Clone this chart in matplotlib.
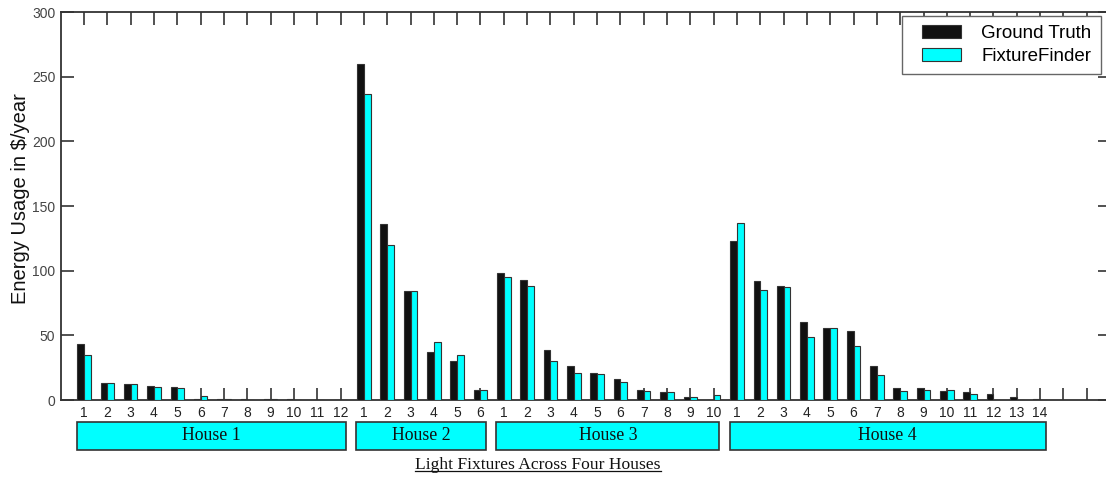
import matplotlib
matplotlib.use("Agg")
import matplotlib.pyplot as plt
from matplotlib.patches import Rectangle
from matplotlib.transforms import blended_transform_factory
from matplotlib.lines import Line2D
from matplotlib.legend_handler import HandlerPatch, update_from_first_child
from matplotlib.container import BarContainer
import numpy as np

# Annual lighting cost per fixture, grouped by house
houses = ["House 1", "House 2", "House 3", "House 4"]
ground_truth = [
    [43, 13, 12, 11, 10, 0.5, 1, 0.5, 1, 0.5, 0, 0],
    [260, 136, 84, 37, 30, 8],
    [98, 93, 39, 26, 21, 16, 8, 6, 2, 0],
    [123, 92, 88, 60, 56, 53, 26, 9, 9, 7, 6, 5, 2, 1],
]
fixture_finder = [
    [35, 13, 12, 10, 9, 3, 0.5, 0, 0.5, 0, 0, 0],
    [237, 120, 84, 45, 35, 8],
    [95, 88, 30, 21, 20, 14, 7, 6, 2, 4],
    [137, 85, 87, 49, 56, 42, 19, 7, 8, 8, 5, 0, 0, 0],
]
extra_ticks = 2
y_ticks = [0, 50, 100, 150, 200, 250, 300]

gt = np.concatenate(ground_truth)
ff = np.concatenate(fixture_finder)
n_fix = len(gt)
pos = np.arange(1, n_fix + 1)
tick_pos = np.arange(1, n_fix + extra_ticks + 1)
tick_lab = [str(i + 1) for h in ground_truth for i in range(len(h))] + [""] * extra_ticks

fig = plt.figure(figsize=(11.06, 4.79), dpi=100)
ax = fig.add_axes([0.0549, 0.1649, 0.9488, 0.81])

w = 0.29
ax.bar(pos - w / 2, gt, width=w, color="#111111", edgecolor="#333333",
       linewidth=0.8, label="Ground Truth", zorder=3)
ax.bar(pos + w / 2, ff, width=w, color="#00FFFF", edgecolor="#333333",
       linewidth=0.8, label="FixtureFinder", zorder=3)

ax.set_xlim(0, 45)
ax.set_ylim(0, 300)
ax.set_xticks(tick_pos)
ax.set_xticklabels(tick_lab, fontsize=10, color="#222222", family="Liberation Sans")
ax.set_yticks(y_ticks)
ax.set_yticklabels([str(v) for v in y_ticks], fontsize=10, color="#444444",
                   family="Liberation Sans")
ax.tick_params(axis="x", direction="in", length=9, width=1.2, color="#333333",
               top=True, pad=4)
ax.tick_params(axis="y", direction="in", length=9, width=1.2, color="#333333",
               right=True, pad=4)
for s in ax.spines.values():
    s.set_color("#333333")
    s.set_linewidth(1.3)

ax.set_ylabel("Energy Usage in $/year", fontsize=14.5, family="Liberation Sans",
              color="#111111")
ax.yaxis.set_label_coords(-0.029, 0.52)


# Legend swatch drawn in the right part of a wider handle box
def swatch(legend, orig_handle, xdescent, ydescent, width, height, fontsize):
    sw = 28.0
    return Rectangle((-xdescent + width - sw - 2.0, -ydescent), sw, height)


leg = ax.legend(loc="upper right", bbox_to_anchor=(1101 / 1106, 1 - 16 / 479),
                bbox_transform=fig.transFigure, borderaxespad=0,
                prop={"family": "Liberation Sans", "size": 13.5},
                fancybox=False, framealpha=1, edgecolor="#666666",
                handlelength=2.8, handleheight=0.68, handletextpad=0.95,
                borderpad=0.5, labelspacing=0.3,
                handler_map={BarContainer: HandlerPatch(
                    patch_func=swatch, update_func=update_from_first_child)})
leg.get_frame().set_linewidth(1.0)

# House group boxes under the tick labels
trans = blended_transform_factory(ax.transData, fig.transFigure)
start = 1
for name, h in zip(houses, ground_truth):
    x0 = start - 0.32
    x1 = start + len(h) - 1 + 0.25
    rect = Rectangle((x0, 29 / 479), x1 - x0, 28 / 479, transform=trans,
                     facecolor="#00FFFF", edgecolor="#333333", linewidth=1.2,
                     clip_on=False)
    ax.add_patch(rect)
    ax.text((x0 + x1) / 2, 43 / 479, name, transform=trans, ha="center",
            va="center", fontsize=12.8, family="Liberation Serif", color="#111111")
    start += len(h)

# Underlined axis caption
cap = fig.text(538 / 1106, 1 - 465 / 479, "Light Fixtures Across Four Houses",
               ha="center", va="center", fontsize=12.6, family="Liberation Serif",
               color="#111111")
fig.canvas.draw()
bb = cap.get_window_extent(fig.canvas.get_renderer()).transformed(fig.transFigure.inverted())
fig.add_artist(Line2D([bb.x0, bb.x1], [bb.y0 + 0.004, bb.y0 + 0.004],
                      transform=fig.transFigure, color="#111111", linewidth=0.9))

fig.savefig("out.png", dpi=100, facecolor="white")
